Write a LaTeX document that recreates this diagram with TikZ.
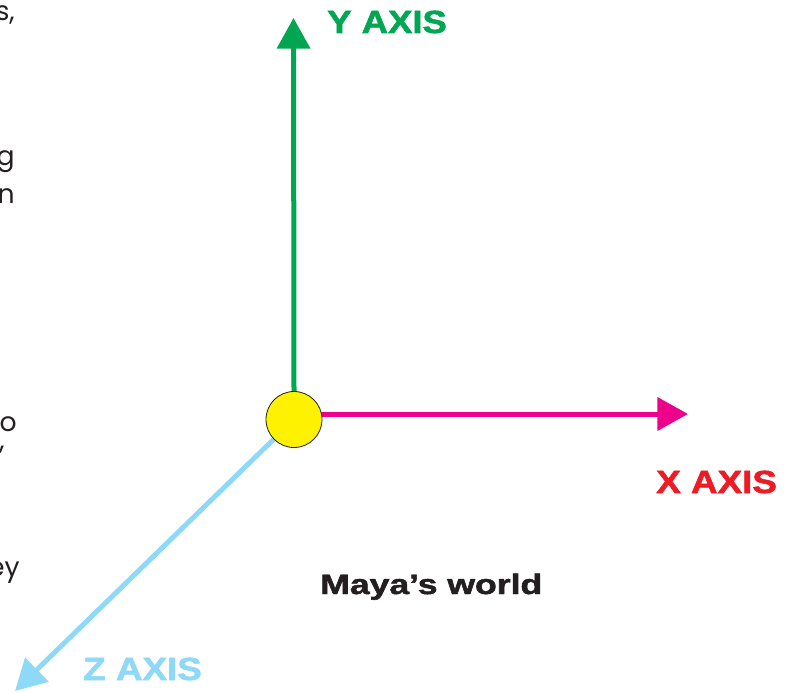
\documentclass[tikz,border=0pt]{standalone}
\usepackage{fontspec}
\setmainfont{Liberation Sans}
\newfontfamily\heavyfont[FakeBold=1.6]{Liberation Sans Bold}
\newfontfamily\fragfont{Poppins}
\usetikzlibrary{arrows.meta,backgrounds}
\definecolor{ygreen}{RGB}{0,166,81}
\definecolor{xpink}{RGB}{236,0,140}
\definecolor{zblue}{RGB}{142,216,248}
\definecolor{xred}{RGB}{237,28,36}
\definecolor{oyellow}{RGB}{255,242,0}
\definecolor{tgray}{RGB}{35,31,32}
\begin{document}
\begin{tikzpicture}[x=0.75pt,y=-0.75pt,
  axis/.style={line width=3.75pt,-{Triangle[length=23pt,width=24.5pt]}},
  lbl/.style={inner sep=0pt,anchor=base west,font=\heavyfont\fontsize{24}{24}\selectfont},
  frag/.style={inner sep=0pt,anchor=base east,text=tgray,font=\fragfont\fontsize{20}{20}\selectfont},
  origin/.style={circle,minimum size=42pt,inner sep=0pt,draw=tgray,line width=0.6pt,fill=oyellow}]
\useasboundingbox (0,0) rectangle (791,692);
\clip (0,0) rectangle (791,692);
\coordinate (ytip) at (293.5,18);
\coordinate (xtip) at (688,414);
\coordinate (ztip) at (15,691);
\node[origin] (o) at (294,419.5) {};
\begin{pgfonlayer}{background}
\draw[axis,ygreen] (o.center |- o.north) -- (ytip);
\draw[axis,xpink] (o.center |- xtip) -- (xtip);
\draw[axis,zblue] (o) -- (ztip);
\end{pgfonlayer}
\node[lbl,text=ygreen] (ylbl) at (327,33) {\scalebox{1.14}[1]{Y AXIS}};
\node[lbl,text=xred] (xlbl) at (656,493) {\scalebox{1.15}[1]{X AXIS}};
\node[lbl,text=zblue] (zlbl) at (83,680) {\scalebox{1.15}[1]{Z AXIS}};
\node[lbl,text=tgray,font=\heavyfont\fontsize{21}{21}\selectfont] (maya) at (320,594) {\scalebox{1.27}[1]{Maya’s world}};
\node[frag] (f1) at (15,21) {s,};
\node[frag] (f2) at (15,165) {g};
\node[frag] (f3) at (15,203) {n};
\node[frag] (f4) at (17,431) {o};
\node[frag] (f5) at (5,449) {,};
\node[frag] (f6) at (20,576) {ey};
\end{tikzpicture}
\end{document}
